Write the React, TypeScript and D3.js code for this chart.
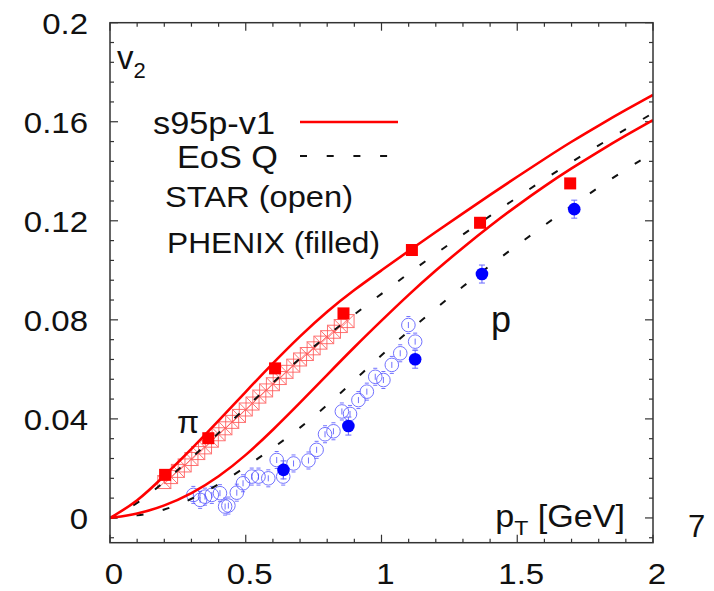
import React from "react";
import * as d3 from "d3";

const W = 714;
const H = 591;

// model curves (pT, v2)
const curvePT = [0, 0.1, 0.2, 0.3, 0.4, 0.5, 0.6, 0.7, 0.8, 0.9, 1.0, 1.1, 1.2, 1.3, 1.4, 1.5, 1.6, 1.7, 1.8, 1.9, 2.0];
const piS95 = [0, 0.0065, 0.017, 0.0278, 0.0392, 0.051, 0.0625, 0.0735, 0.0835, 0.0922, 0.1, 0.1078, 0.1155, 0.123, 0.1305, 0.1378, 0.145, 0.152, 0.1585, 0.1648, 0.1708];
const pS95 = [0, 0.0015, 0.0048, 0.0097, 0.0165, 0.0252, 0.0355, 0.0465, 0.0578, 0.069, 0.0797, 0.0902, 0.1, 0.1092, 0.118, 0.1262, 0.134, 0.1412, 0.148, 0.1545, 0.1607];
const piEoSQ = [0, 0.0055, 0.0145, 0.0242, 0.0343, 0.0445, 0.0547, 0.0645, 0.0737, 0.0822, 0.0905, 0.0988, 0.1067, 0.1145, 0.122, 0.1295, 0.1368, 0.1438, 0.1505, 0.157, 0.1635];
const pEoSQ = [0, 0.0008, 0.003, 0.0075, 0.0135, 0.0205, 0.0282, 0.0363, 0.0455, 0.0555, 0.0658, 0.0755, 0.0846, 0.0935, 0.102, 0.1102, 0.1182, 0.126, 0.1335, 0.1408, 0.1475];

// PHENIX pions (filled squares)
const phenixPiPT = [0.203, 0.362, 0.608, 0.86, 1.112, 1.363, 1.695];
const phenixPiV2 = [0.0174, 0.0322, 0.0604, 0.0826, 0.1082, 0.1192, 0.1351];

// PHENIX protons (filled circles)
const phenixPPT = [0.639, 0.878, 1.124, 1.37, 1.71];
const phenixPV2 = [0.0194, 0.0371, 0.0641, 0.0985, 0.1247];

// STAR pions (open crossed squares)
const starPiPT = [0.2, 0.225, 0.25, 0.275, 0.3, 0.325, 0.35, 0.375, 0.4, 0.425, 0.45, 0.475, 0.5, 0.525, 0.55, 0.575, 0.6, 0.625, 0.65, 0.675, 0.7, 0.725, 0.75, 0.775, 0.8, 0.825, 0.85, 0.875];
const starPiV2 = [0.0145, 0.0165, 0.019, 0.0212, 0.0238, 0.0262, 0.0285, 0.0312, 0.0338, 0.0362, 0.0388, 0.0412, 0.0438, 0.0462, 0.049, 0.0515, 0.054, 0.0565, 0.059, 0.0615, 0.064, 0.0662, 0.0685, 0.0708, 0.073, 0.0752, 0.0775, 0.0795];

// STAR protons (open circles)
const starPPT = [0.307, 0.332, 0.35, 0.375, 0.405, 0.424, 0.436, 0.467, 0.49, 0.522, 0.547, 0.583, 0.614, 0.638, 0.676, 0.731, 0.761, 0.792, 0.823, 0.854, 0.884, 0.915, 0.946, 0.977, 1.007, 1.038, 1.069, 1.099, 1.124];
const starPV2 = [0.0093, 0.0073, 0.0086, 0.0093, 0.01, 0.0046, 0.005, 0.0102, 0.014, 0.0167, 0.0167, 0.016, 0.0234, 0.0167, 0.022, 0.0232, 0.0275, 0.0338, 0.035, 0.043, 0.042, 0.0476, 0.051, 0.057, 0.0557, 0.0618, 0.0665, 0.0779, 0.0712];

const xMajor = [0, 0.5, 1, 1.5, 2];
const xMajorLabels = ["0", "0.5", "1", "1.5", "2"];
const yMajor = [0, 0.04, 0.08, 0.12, 0.16, 0.2];
const yMajorLabels = ["0", "0.04", "0.08", "0.12", "0.16", "0.2"];

const legendLabels = ["s95p-v1", "EoS Q", "STAR (open)", "PHENIX (filled)"];

const L = 110, R = 653, T = 22.7, B = 542.7;

export default function App() {
  const x = d3.scaleLinear().domain([0, 2]).range([L, R]);
  const y = d3.scaleLinear().domain([-0.01, 0.2]).range([B, T]);

  const line = d3
    .line<[number, number]>()
    .x((d) => x(d[0]))
    .y((d) => y(d[1]))
    .curve(d3.curveBasis);
  const mk = (vals: number[]) => line(curvePT.map((p, i) => [p, vals[i]] as [number, number])) || "";

  const xMinor = d3.range(0, 21).map((i) => i / 10);
  const yMinor = d3.range(-1, 26).map((i) => i * 0.008).filter((v) => v >= -0.01 && v <= 0.2001);

  const isMajorX = (v: number) => Math.abs(v * 2 - Math.round(v * 2)) < 1e-6;
  const isMajorY = (v: number) => Math.abs(v / 0.04 - Math.round(v / 0.04)) < 1e-6;

  const red = "#ff0000";
  const frame = "#333";
  const sq = 12;
  const osq = 13;

  return (
    <svg width={W} height={H} style={{ position: "absolute", left: 0, top: 0, background: "#fff" }}
      fontFamily="'Liberation Sans', Arial, Helvetica, sans-serif">
      <defs>
        <clipPath id="plot">
          <rect x={L} y={T} width={R - L} height={B - T} />
        </clipPath>
      </defs>
      <rect x={0} y={0} width={W} height={H} fill="#fff" />

      {/* ticks */}
      {xMinor.map((v, i) => {
        const len = isMajorX(v) ? 8 : 4;
        return (
          <g key={"xt" + i} stroke={frame} strokeWidth={1.2}>
            <line x1={x(v)} x2={x(v)} y1={B} y2={B - len} />
            <line x1={x(v)} x2={x(v)} y1={T} y2={T + len} />
          </g>
        );
      })}
      {yMinor.map((v, i) => {
        const len = isMajorY(v) ? 8 : 4;
        return (
          <g key={"yt" + i} stroke={frame} strokeWidth={1.2}>
            <line x1={L} x2={L + len} y1={y(v)} y2={y(v)} />
            <line x1={R} x2={R - len} y1={y(v)} y2={y(v)} />
          </g>
        );
      })}

      {/* tick labels */}
      {xMajor.map((v, i) => (
        <text key={"xl" + i} transform={`translate(${x(v) + 4},${584}) scale(1.1,1)`} textAnchor="middle"
          fontSize={30} fill="#111">{xMajorLabels[i]}</text>
      ))}
      {yMajor.map((v, i) => (
        <text key={"yl" + i} transform={`translate(${88},${y(v) + 11}) scale(1.1,1)`} textAnchor="end"
          fontSize={30} fill="#111">{yMajorLabels[i]}</text>
      ))}

      <g clipPath="url(#plot)">
        {/* STAR pions open crossed squares */}
        {starPiPT.map((p, i) => {
          const cx = x(p), cy = y(starPiV2[i]);
          const h = osq / 2;
          return (
            <g key={"sp" + i} stroke="#ff5a5a" strokeWidth={1} fill="none" opacity={0.85}>
              <rect x={cx - h} y={cy - h} width={osq} height={osq} />
              <line x1={cx - h} y1={cy - h} x2={cx + h} y2={cy + h} />
              <line x1={cx - h} y1={cy + h} x2={cx + h} y2={cy - h} />
            </g>
          );
        })}
        {/* STAR protons open circles */}
        {starPPT.map((p, i) => {
          const cx = x(p), cy = y(starPV2[i]);
          return (
            <g key={"so" + i} stroke="#5050ff" strokeWidth={1} fill="none" opacity={0.8}>
              <circle cx={cx} cy={cy} r={6.8} />
              <line x1={cx} x2={cx} y1={cy - 3} y2={cy + 3} />
              <line x1={cx - 2} x2={cx + 2} y1={cy - 8.5} y2={cy - 8.5} />
              <line x1={cx - 2} x2={cx + 2} y1={cy + 8.5} y2={cy + 8.5} />
            </g>
          );
        })}

        {/* model curves */}
        <path d={mk(piEoSQ)} fill="none" stroke="#111" strokeWidth={2} strokeDasharray="7,19.7" />
        <path d={mk(pEoSQ)} fill="none" stroke="#111" strokeWidth={2} strokeDasharray="7,19.7" />
        <path d={mk(piS95)} fill="none" stroke={red} strokeWidth={2.6} />
        <path d={mk(pS95)} fill="none" stroke={red} strokeWidth={2.6} />

        {/* PHENIX pions */}
        {phenixPiPT.map((p, i) => (
          <rect key={"pp" + i} x={x(p) - sq / 2} y={y(phenixPiV2[i]) - sq / 2} width={sq} height={sq} fill={red} />
        ))}
        {/* PHENIX protons */}
        {phenixPPT.map((p, i) => {
          const cx = x(p), cy = y(phenixPV2[i]);
          return (
            <g key={"pc" + i}>
              <g stroke="#6a6aff" strokeWidth={1}>
                <line x1={cx} x2={cx} y1={cy - 9} y2={cy + 9} />
                <line x1={cx - 3} x2={cx + 3} y1={cy - 9} y2={cy - 9} />
                <line x1={cx - 3} x2={cx + 3} y1={cy + 9} y2={cy + 9} />
              </g>
              <circle cx={cx} cy={cy} r={6.3} fill="#0000ff" />
            </g>
          );
        })}
      </g>

      {/* frame */}
      <rect x={L} y={T} width={R - L} height={B - T} fill="none" stroke={frame} strokeWidth={1.5} />

      {/* legend */}
      <text x={153} y={134} fontSize={31} fill="#111" textLength={122} lengthAdjust="spacingAndGlyphs">{legendLabels[0]}</text>
      <line x1={300} x2={398} y1={122} y2={122} stroke={red} strokeWidth={2.6} />
      <text x={177} y={168} fontSize={31} fill="#111" textLength={101} lengthAdjust="spacingAndGlyphs">{legendLabels[1]}</text>
      <line x1={300} x2={390} y1={156} y2={156} stroke="#111" strokeWidth={2} strokeDasharray="7,19.7" />
      <text x={165} y={207} fontSize={29} fill="#111" textLength={188} lengthAdjust="spacingAndGlyphs">{legendLabels[2]}</text>
      <text x={167} y={253} fontSize={29} fill="#111" textLength={213} lengthAdjust="spacingAndGlyphs">{legendLabels[3]}</text>

      {/* v2 label */}
      <text x={117} y={69} fontSize={33} fill="#111">v<tspan fontSize={22} dy={9}>2</tspan></text>

      {/* particle labels */}
      <text x={177} y={433} fontSize={32} fill="#111">π</text>
      <text x={491} y={332} fontSize={36} fill="#111">p</text>

      {/* axis title */}
      <text transform={`translate(625,527) scale(1.1,1)`} textAnchor="end" fontSize={31} fill="#111">
        p<tspan fontSize={21} dy={8}>T</tspan><tspan dy={-8}> [GeV]</tspan>
      </text>

      <text x={688} y={537} fontSize={31} fill="#111">7</text>
    </svg>
  );
}
